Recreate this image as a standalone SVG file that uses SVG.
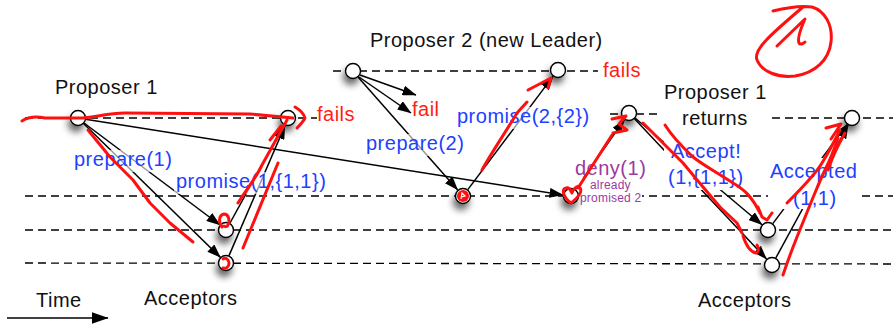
<svg xmlns="http://www.w3.org/2000/svg" width="893" height="324" viewBox="0 0 893 324">
  <defs>
    <style>
      .dash { stroke: #000; stroke-width: 1.3; stroke-dasharray: 8 5; fill: none; }
      .msg { stroke: #000; stroke-width: 1.5; fill: none; marker-end: url(#ah); }
      .node circle { fill: #fff; stroke: #000; stroke-width: 1.4; }
      .node { filter: url(#sh); }
      text { font-family: "Liberation Sans", Arial, Helvetica, sans-serif; font-size: 20px; letter-spacing: 0.5px; }
      .dark { fill: #111; }
      .blue { fill: #1e40ff; }
      .red { fill: #ff1e12; }
      .purple { fill: #9b3a9f; }
      .small { font-size: 12px; letter-spacing: 0.2px; }
      .veil { fill: #fff; fill-opacity: 0.6; }
      .mask { fill: #fff; }
      .pen { stroke: #ff1010; stroke-width: 3; fill: none; stroke-linecap: round; stroke-linejoin: round; }
    </style>
    <marker id="ah" viewBox="0 0 14 10" markerWidth="14" markerHeight="10" refX="13.5" refY="5" orient="auto" markerUnits="userSpaceOnUse">
      <path d="M0,0 L14,5 L0,10 z" fill="#000"/>
    </marker>
    <marker id="ahBig" viewBox="0 0 17 12" markerWidth="17" markerHeight="12" refX="16.5" refY="6" orient="auto" markerUnits="userSpaceOnUse">
      <path d="M0,0 L17,6 L0,12 z" fill="#000"/>
    </marker>
    <filter id="sh" x="-150%" y="-150%" width="400%" height="400%">
      <feDropShadow dx="-2" dy="6" stdDeviation="3.5" flood-color="#000" flood-opacity="0.6"/>
    </filter>
  </defs>

  <rect width="893" height="324" fill="#fff"/>

  <!-- timelines -->
  <g id="timelines">
    <line class="dash" x1="25" y1="118" x2="317" y2="118"/>
    <line class="dash" x1="333" y1="71" x2="598" y2="71"/>
    <line class="dash" x1="610" y1="114" x2="660" y2="114"/>
    <line class="dash" x1="772" y1="118" x2="893" y2="118"/>
    <line class="dash" x1="25" y1="196" x2="768" y2="196"/>
    <line class="dash" x1="862" y1="196" x2="893" y2="196"/>
    <line class="dash" x1="25" y1="230" x2="893" y2="230"/>
    <line class="dash" x1="25" y1="263" x2="893" y2="264"/>
  </g>

  <!-- messages -->
  <g id="connectors">
    <line class="msg" x1="84" y1="123" x2="220" y2="225"/>
    <line class="msg" x1="83" y1="123" x2="220.5" y2="257.5"/>
    <line class="msg" x1="85.5" y1="119.3" x2="563" y2="195"/>
    <line class="msg" x1="230" y1="223" x2="284" y2="125"/>
    <line class="msg" x1="229" y1="255.6" x2="285" y2="125.6"/>
    <line class="msg" x1="360" y1="75" x2="416" y2="95"/>
    <line class="msg" x1="359" y1="77" x2="411" y2="113"/>
    <line class="msg" x1="358" y1="77" x2="457.7" y2="190"/>
    <line class="msg" x1="467.8" y1="189.6" x2="553" y2="76.4"/>
    <line class="msg" x1="575.5" y1="189.4" x2="624.5" y2="119.6"/>
    <line class="msg" x1="635" y1="118" x2="762" y2="224.8"/>
    <line class="msg" x1="634.5" y1="118.8" x2="766.5" y2="259"/>
    <line class="msg" x1="772.8" y1="223.6" x2="847.2" y2="124.4"/>
    <line class="msg" x1="775.8" y1="258" x2="848.2" y2="125"/>
    <line x1="7" y1="318" x2="108" y2="318" stroke="#000" stroke-width="1.6" marker-end="url(#ahBig)"/>
  </g>

  <!-- label backdrops -->
  <g id="label-backdrops">
    <rect class="veil" x="72" y="150" width="104" height="22"/>
    <rect class="veil" x="174" y="172" width="156" height="22"/>
    <rect class="veil" x="364" y="134" width="103" height="22"/>
    <rect class="veil" x="455" y="107" width="136" height="22"/>
    <rect class="mask" x="664" y="138" width="82" height="52"/>
    <rect class="mask" x="768" y="158" width="94" height="51"/>
    <rect class="mask" x="578" y="178" width="64" height="25"/>
  </g>

  <!-- proposers and acceptors -->
  <g id="p1-start" class="node"><circle cx="78" cy="118" r="7.5"/></g>
  <g id="p1-end" class="node"><circle cx="288" cy="118" r="7.5"/></g>
  <g id="acc-a1" class="node"><circle cx="226" cy="230" r="7.5"/></g>
  <g id="acc-a2" class="node"><circle cx="226" cy="263" r="7.5"/></g>
  <g id="p2-start" class="node"><circle cx="353" cy="71" r="7.5"/></g>
  <g id="p2-end" class="node"><circle cx="558" cy="70" r="7.5"/></g>
  <g id="acc-b1" class="node"><circle cx="463" cy="196" r="7.5"/></g>
  <g id="acc-deny" class="node"><circle cx="571" cy="196" r="7.5"/></g>
  <g id="p1-return" class="node"><circle cx="629" cy="113" r="7.5"/></g>
  <g id="p1-final" class="node"><circle cx="852" cy="118" r="7.5"/></g>
  <g id="acc-c1" class="node"><circle cx="768" cy="230" r="7.5"/></g>
  <g id="acc-c2" class="node"><circle cx="772" cy="265" r="7.5"/></g>

  <!-- titles -->
  <g id="titles">
    <text class="dark" x="55" y="94">Proposer 1</text>
    <text class="dark" x="370" y="47">Proposer 2 (new Leader)</text>
    <text class="dark" x="664" y="99">Proposer 1</text>
    <text class="dark" x="682" y="125">returns</text>
    <text class="dark" x="144" y="305">Acceptors</text>
    <text class="dark" x="698" y="307">Acceptors</text>
    <text class="dark" x="36" y="307">Time</text>
  </g>

  <!-- message labels -->
  <g id="labels">
    <text class="blue" x="74" y="166">prepare(1)</text>
    <text class="blue" x="176" y="188">promise(1,{1,1})</text>
    <text class="blue" x="366" y="150">prepare(2)</text>
    <text class="blue" x="457" y="123">promise(2,{2})</text>
    <text class="blue" x="671" y="158">Accept!</text>
    <text class="blue" x="668" y="184">(1,{1,1})</text>
    <text class="blue" x="770" y="178">Accepted</text>
    <text class="blue" x="793" y="205">(1,1)</text>
    <text class="red" x="317" y="121">fails</text>
    <text class="red" x="603" y="77">fails</text>
    <text class="red" x="412" y="116">fail</text>
    <text class="purple" x="575" y="175">deny(1)</text>
    <text class="purple small" x="590" y="189">already</text>
    <text class="purple small" x="580" y="202">promised 2</text>
  </g>

  <!-- red pen annotations -->
  <g id="pen">
    <path class="pen" d="M22,121 C28,117 35,116 45,118 L78,118 C95,118 105,113 125,113 L250,114 L293,118"/>
    <path class="pen" d="M295,107 C300,110 304,114 305,118 C303,122 300,125 297,128"/>
    <path class="pen" d="M88,130 L110,157 L133,180 L150,203 L170,223 L193,242"/>
    <path class="pen" d="M222,227 C218,222 219,215 224,214 C229,214 230,221 228,225 C227,227 225,227 224,226"/>
    <path class="pen" d="M223,259 C226,257 229,260 229,263 C229,267 226,269 223,268"/>
    <path class="pen" d="M238,203 C246,190 256,178 262,165 L287,120"/>
    <path class="pen" d="M270,140 L281,126"/>
    <path class="pen" d="M243,248 L278,163"/>
    <circle cx="463" cy="196" r="6" fill="#ff1010"/>
    <path d="M461,199 L462,193 L465,196 L461,197" stroke="#fff" stroke-width="1.2" fill="none"/>
    <path class="pen" d="M482,170 C490,155 505,133 517,113 L527,102"/>
    <path class="pen" d="M528,90 L551,78 L548,88"/>
    <path class="pen" d="M571,203 C563,197 561,189 566,188 C570,187 571,191 572,193 C573,189 577,185 580,188 C583,192 576,199 571,203"/>
    <path class="pen" d="M578,188 L612,135"/>
    <path class="pen" d="M612,119 L626,116 L619,124 L627,130 L613,133"/>
    <path class="pen" d="M665,125 C670,133 677,142 693,157 C703,165 713,170 733,183 C745,190 752,197 760,213"/>
    <path class="pen" d="M758,207 L762,217 L767,220 L772,213"/>
    <path class="pen" d="M643,123 L660,140 L683,163 L703,187 L720,207 L737,223 L742,233"/>
    <path class="pen" d="M743,236 C746,245 750,252 756,253 C759,252 759,248 757,245"/>
    <path class="pen" d="M787,203 C800,190 815,175 822,163 C830,150 835,140 840,130"/>
    <path class="pen" d="M826,128 L841,124 L831,139"/>
    <path class="pen" d="M783,275 C788,260 793,247 797,237 C803,222 808,210 812,200 C817,188 821,178 825,170 C830,160 834,150 838,138"/>
    <path class="pen" d="M828,170 C833,155 838,145 845,133"/>
    <path class="pen" d="M773,11 C785,8 800,5 812,7 C825,11 833,25 831,42 C829,60 815,73 795,76 C778,78 762,72 757,60 C753,50 770,35 803,7"/>
    <path class="pen" d="M777,46 L805,19 C801,28 797,38 799,43 C800,45 803,44 805,42"/>
  </g>
</svg>
